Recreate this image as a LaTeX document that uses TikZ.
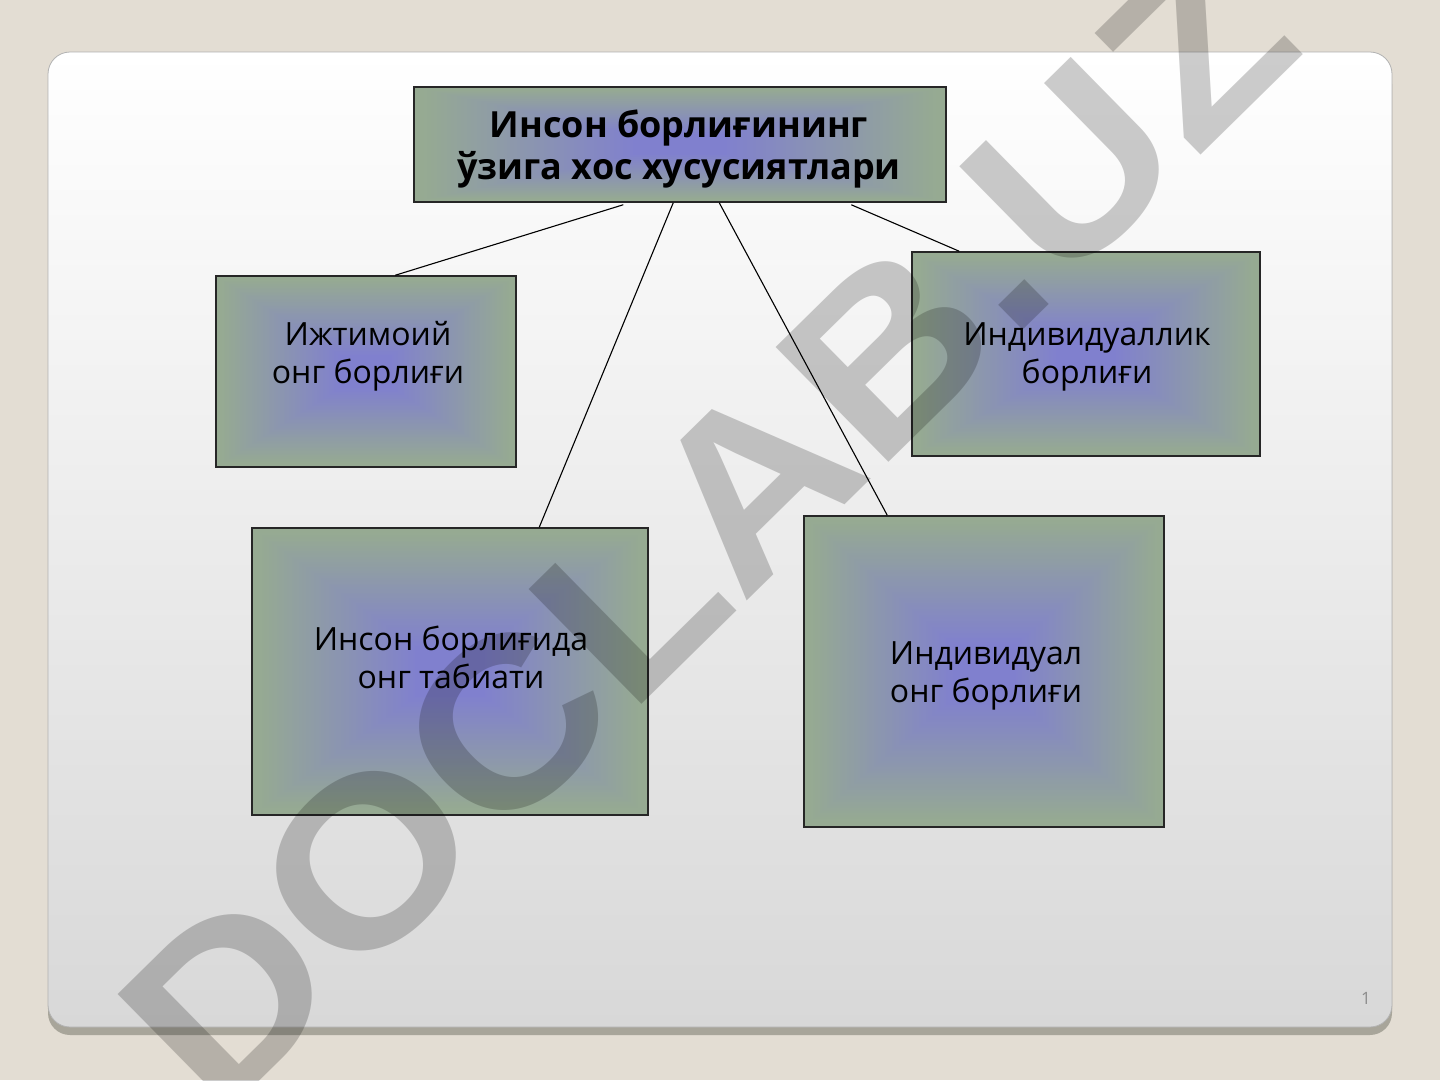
\documentclass[tikz,border=0pt]{standalone}
\usepackage{fontspec}
\setmainfont{Open Sans}
\newfontfamily\wmfont{Liberation Sans}
\usetikzlibrary{calc}
\definecolor{bgc}{RGB}{227,221,211}
\definecolor{shadowc}{RGB}{168,165,154}
\definecolor{slidetop}{RGB}{255,255,255}
\definecolor{slidebot}{RGB}{216,216,216}
\definecolor{slideedge}{RGB}{178,178,178}
\definecolor{greenc}{RGB}{150,170,146}
\definecolor{bluec}{RGB}{128,128,206}
\definecolor{pagec}{RGB}{140,140,140}
\tikzset{
  gbox/.style={draw=black!85, line width=1.5pt, inner sep=0pt,
    path picture={
      \foreach \k in {0,...,80}{
        \pgfmathsetmacro\sc{1-\k/80}
        \pgfmathsetmacro\fr{max(0,min(100,(0.97-\sc)/0.8*100))}
        \fill[bluec!\fr!greenc]
          ($(path picture bounding box.center)!\sc!(path picture bounding box.south west)$)
          rectangle
          ($(path picture bounding box.center)!\sc!(path picture bounding box.north east)$);
      }
    }},
  txt/.style={align=center, text=black, font=\fontsize{32}{38}\selectfont},
  txtb/.style={align=center, text=black, font=\bfseries\fontsize{36}{42}\selectfont},
  link/.style={draw=black, line width=1.1pt},
  wmark/.style={transform shape, inner sep=0pt, text=black, text opacity=0.2,
    font=\wmfont\bfseries\fontsize{234}{234}\selectfont}
}
\begin{document}
\begin{tikzpicture}[x=1pt,y=-1pt]
\useasboundingbox (0,0) rectangle (1440,1080);
\fill[bgc] (0,0) rectangle (1440,1080);
% slide
\fill[shadowc, rounded corners=22pt] (48,62) rectangle (1392,1035);
\shade[top color=slidetop, bottom color=slidebot, rounded corners=22pt] (48,52) rectangle (1392,1027);
\draw[slideedge, line width=0.8pt, rounded corners=22pt] (48,52) rectangle (1392,1027);
% boxes
\node[gbox, minimum width=532pt, minimum height=115pt] (top) at (680,144.5) {};
\node[gbox, minimum width=300pt, minimum height=191pt] (ijt) at (366,371.5) {};
\node[gbox, minimum width=348pt, minimum height=204pt] (ind) at (1086,354) {};
\node[gbox, minimum width=396pt, minimum height=287pt] (ins) at (450,671.5) {};
\node[gbox, minimum width=360pt, minimum height=311pt] (inl) at (984,671.5) {};
% texts
\node[txtb] (topT) at (679,149) {Инсон борлиғининг\\ўзига хос хусусиятлари};
\node[txt] (ijtT) at (368,356) {Ижтимоий\\онг борлиғи};
\node[txt] (indT) at (1087,357) {Индивидуаллик\\борлиғи};
\node[txt] (insT) at (451,657) {Инсон борлиғида\\онг табиати};
\node[txt] (inlT) at (986,676) {Индивидуал\\онг борлиғи};
% connectors
\draw[link] ([xshift=210pt,yshift=-2pt]top.south west) -- ([xshift=180pt]ijt.north west);
\draw[link] ([xshift=260pt]top.south west) -- ([xshift=288pt]ins.north west);
\draw[link] ([xshift=306pt]top.south west) -- ([xshift=84pt]inl.north west);
\draw[link] ([xshift=438pt,yshift=-2pt]top.south west) -- ([xshift=48pt]ind.north west);
% page number
\node[text=pagec, font=\fontsize{17}{17}\selectfont] (pg) at (1366,998) {1};
% watermark
\begin{scope}[shift={(707,528)}, rotate=44.5, xscale=1.11]
\node[wmark] (wm) at (0,0) {DOCLAB.UZ};
\end{scope}
\end{tikzpicture}
\end{document}
